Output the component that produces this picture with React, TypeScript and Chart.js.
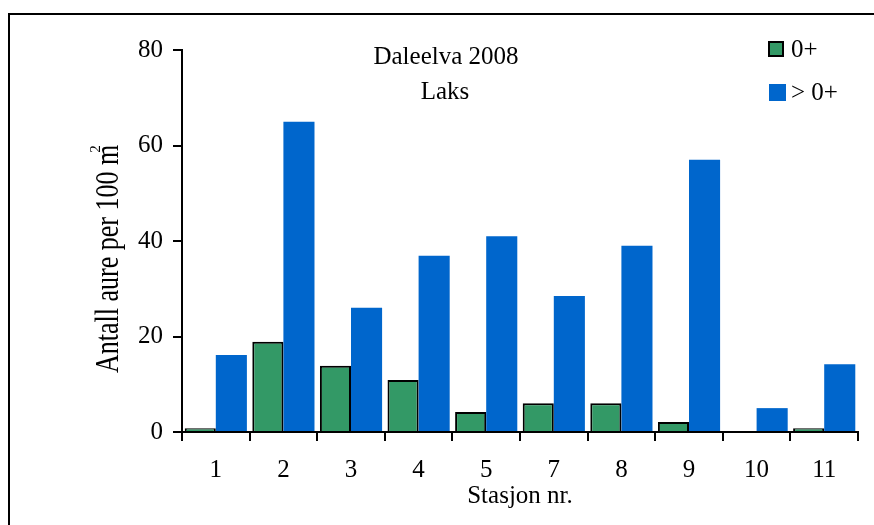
import React, { useEffect, useRef } from "react";
import { Chart, registerables } from "chart.js";

Chart.register(...registerables);

// ---- data ----
const categories = ["1", "2", "3", "4", "5", "7", "8", "9", "10", "11"];
const youngOfYear = [0.8, 18.9, 13.9, 10.9, 4.2, 6.0, 6.0, 2.1, 0, 0.8];
const olderFish = [16.1, 65, 26, 36.9, 41, 28.5, 39, 57, 5, 14.2];
const seriesLabels = ["0+", "> 0+"];
const yTickValues = [0, 20, 40, 60, 80];
const titleLines = ["Daleelva 2008", "Laks"];
const xAxisTitle = "Stasjon nr.";
const yAxisTitle = "Antall aure per 100 m";
const yAxisTitleSup = "2";

const FONT_FAMILY = '"Liberation Serif", "Times New Roman", Times, serif';
const GREEN = "#339966";
const BLUE = "#0066CC";

const overlayPlugin = {
  id: "overlayText",
  afterDraw(chart: any) {
    const ctx = chart.ctx as CanvasRenderingContext2D;
    ctx.save();
    ctx.fillStyle = "#000";
    ctx.textAlign = "center";
    ctx.textBaseline = "middle";
    ctx.font = `25px ${FONT_FAMILY}`;
    // title lines
    ctx.fillText(titleLines[0], 446, 57);
    ctx.fillText(titleLines[1], 445, 92);

    // legend
    const ds = chart.data.datasets;
    const boxes = [
      { x: 768, y: 41, s: 16 },
      { x: 769, y: 84, s: 17 },
    ];
    ds.forEach((d: any, i: number) => {
      const b = boxes[i];
      ctx.fillStyle = d.backgroundColor;
      ctx.fillRect(b.x, b.y, b.s, b.s);
      if (d.borderWidth) {
        ctx.strokeStyle = "#000";
        ctx.lineWidth = 2;
        ctx.strokeRect(b.x + 1, b.y + 1, b.s - 2, b.s - 2);
      }
      ctx.fillStyle = "#000";
      ctx.textAlign = "left";
      ctx.fillText(d.label, 791, b.y + b.s / 2 + 1);
    });

    // y axis title (rotated)
    ctx.save();
    ctx.translate(118, 373);
    ctx.rotate(-Math.PI / 2);
    ctx.save();
    ctx.scale(1, 1.3);
    ctx.textAlign = "left";
    ctx.textBaseline = "alphabetic";
    ctx.font = `26px ${FONT_FAMILY}`;
    ctx.fillText(yAxisTitle, 0, 0);
    const w = ctx.measureText(yAxisTitle).width;
    ctx.restore();
    ctx.textAlign = "left";
    ctx.textBaseline = "alphabetic";
    ctx.font = `15px ${FONT_FAMILY}`;
    ctx.fillText(yAxisTitleSup, w - 8, -18);
    ctx.restore();

    ctx.restore();
  },
};

export default function App() {
  const canvasRef = useRef<HTMLCanvasElement | null>(null);

  useEffect(() => {
    const canvas = canvasRef.current;
    if (!canvas) return;
    const font = { family: FONT_FAMILY, size: 25 };
    const chart = new Chart(canvas, {
      type: "bar",
      data: {
        labels: categories,
        datasets: [
          {
            label: seriesLabels[0],
            data: youngOfYear,
            backgroundColor: GREEN,
            borderColor: "#000",
            borderWidth: 2,
            categoryPercentage: 0.92,
            barPercentage: 1.0,
          },
          {
            label: seriesLabels[1],
            data: olderFish,
            backgroundColor: BLUE,
            borderWidth: 0,
            categoryPercentage: 0.92,
            barPercentage: 1.0,
          },
        ],
      },
      options: {
        responsive: false,
        animation: false,
        devicePixelRatio: 1,
        layout: { padding: { left: 0, right: 16, top: 50, bottom: 0 } },
        plugins: {
          legend: { display: false },
          title: { display: false },
          tooltip: { enabled: false },
        },
        scales: {
          x: {
            grid: {
              offset: true,
              drawOnChartArea: false,
              drawTicks: true,
              tickLength: 9,
              color: "#000",
              lineWidth: 2,
            },
            border: { display: true, color: "#000", width: 2 },
            ticks: {
              color: "#000",
              font,
              padding: 14,
              maxRotation: 0,
              autoSkip: false,
            },
            title: {
              display: true,
              text: xAxisTitle,
              color: "#000",
              font,
              padding: { top: 0, bottom: 14 },
            },
            afterFit: (s: any) => {
              s.height = 93;
            },
          },
          y: {
            min: 0,
            max: 80,
            afterBuildTicks: (s: any) => {
              s.ticks = yTickValues.map((v) => ({ value: v }));
            },
            ticks: { color: "#000", font, padding: 10 },
            grid: {
              drawOnChartArea: false,
              drawTicks: true,
              tickLength: 9,
              color: "#000",
              lineWidth: 2,
            },
            border: { display: true, color: "#000", width: 2 },
            afterFit: (s: any) => {
              s.width = 182;
            },
          },
        },
      },
      plugins: [overlayPlugin],
    });
    return () => chart.destroy();
  }, []);

  return (
    <div
      style={{
        position: "fixed",
        left: 0,
        top: 0,
        width: 874,
        height: 525,
        overflow: "hidden",
        background: "#fff",
      }}
    >
      <div
        style={{
          position: "absolute",
          left: 8,
          top: 13,
          width: 900,
          height: 600,
          borderTop: "2px solid #000",
          borderLeft: "2px solid #000",
        }}
      />
      <canvas
        ref={canvasRef}
        width={874}
        height={525}
        style={{ position: "absolute", left: 0, top: 0, width: 874, height: 525 }}
      />
    </div>
  );
}
